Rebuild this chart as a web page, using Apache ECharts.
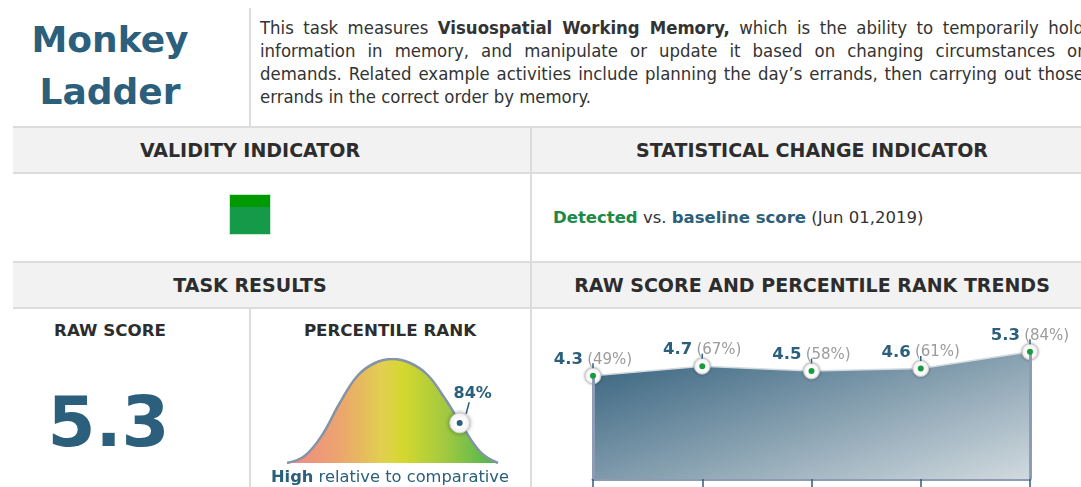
<!DOCTYPE html>
<html>
<head>
<meta charset="utf-8">
<title>Monkey Ladder</title>
<script src="https://cdn.jsdelivr.net/npm/echarts@6/dist/echarts.min.js"></script>
<style>
  html, body { margin: 0; padding: 0; }
  body { width: 1081px; height: 487px; overflow: hidden; position: relative; background: #fff;
         font-family: 'DejaVu Sans', sans-serif; color: #333; }
  .hline { position: absolute; height: 2px; background: #dcdcdc; }
  .vline { position: absolute; width: 2px; background: #dcdcdc; }
  .band { position: absolute; background: #f2f2f2; }
  .head { position: absolute; font-weight: bold; font-size: 19px; line-height: 22px; color: #2d2d2d; text-align: center; white-space: nowrap; }
  .sub { position: absolute; font-weight: bold; font-size: 16.7px; line-height: 20px; color: #2d2d2d; text-align: center; white-space: nowrap; }
  .desc { position: absolute; left: 260px; width: 824px; font-family: 'DejaVu Sans Condensed', 'DejaVu Sans', sans-serif;
          font-size: 18.4px; line-height: 23px; color: #333; white-space: nowrap; }
  .just { text-align: justify; text-align-last: justify; }
</style>
</head>
<body>

  <!-- task title + description -->
  <div style="position:absolute; left:0; top:14px; width:220px; text-align:center; font-size:36px; line-height:52px; font-weight:bold; color:#2b5f7b">Monkey<br>Ladder</div>
  <div class="vline" style="left:249px; top:8px; height:118px"></div>
  <div class="desc just" style="top:16px">This task measures <b>Visuospatial Working Memory,</b> which is the ability to temporarily hold</div>
  <div class="desc just" style="top:39px">information in memory, and manipulate or update it based on changing circumstances or</div>
  <div class="desc just" style="top:62px">demands. Related example activities include planning the day’s errands, then carrying out those</div>
  <div class="desc" style="top:85px">errands in the correct order by memory.</div>

  <!-- validity / statistical change -->
  <div class="hline" style="left:13px; top:126px; width:1068px"></div>
  <div class="band" style="left:13px; top:128px; width:1068px; height:44px"></div>
  <div class="hline" style="left:13px; top:172px; width:1068px"></div>
  <div class="head" style="left:0; width:500px; top:139px">VALIDITY INDICATOR</div>
  <div class="head" style="left:531px; width:562px; top:139px">STATISTICAL CHANGE INDICATOR</div>

  <div style="position:absolute; left:229px; top:194px; width:40px; height:39px; border:1px solid #c6ead0; background:#149a48">
    <div style="height:12px; background:#009900"></div>
  </div>
  <div style="position:absolute; left:553px; top:207px; font-size:16.5px; line-height:22px; white-space:nowrap; color:#333">
    <b style="color:#1a8a45">Detected</b> vs. <b style="color:#2b5f7b">baseline score</b> (Jun 01,2019)
  </div>

  <!-- task results / trends -->
  <div class="hline" style="left:13px; top:261px; width:1068px"></div>
  <div class="band" style="left:13px; top:263px; width:1068px; height:44px"></div>
  <div class="hline" style="left:13px; top:307px; width:1068px"></div>
  <div class="head" style="left:0; width:500px; top:274px">TASK RESULTS</div>
  <div class="head" style="left:531px; width:562px; top:274px">RAW SCORE AND PERCENTILE RANK TRENDS</div>

  <div class="vline" style="left:530px; top:126px; height:361px"></div>
  <div class="vline" style="left:249px; top:307px; height:180px"></div>

  <div class="sub" style="left:0; width:220px; top:320px">RAW SCORE</div>
  <div class="sub" style="left:260px; width:260px; top:320px">PERCENTILE RANK</div>
  <div style="position:absolute; left:0; width:217px; top:380px; text-align:center; font-size:69px; line-height:84px; font-weight:bold; color:#2b5f7b">5.3</div>

  <div id="bell" style="position:absolute; left:260px; top:308px; width:270px; height:179px"></div>
  <div style="position:absolute; left:260px; width:260px; top:466px; text-align:center; font-size:16.3px; line-height:22px; color:#2b5f7b; white-space:nowrap"><b>High</b> relative to comparative</div>

  <div id="trend" style="position:absolute; left:531px; top:308px; width:550px; height:179px"></div>

<script>
// percentile bell curve, heights
const bellZ = [-3, -2.5, -2, -1.5, -1, -0.5, 0, 0.5, 1, 1.5, 2, 2.5, 3];
const bellHeight = [0, 7, 28, 60, 87, 100, 104, 100, 88, 64, 36, 11, 0];
const markerZ = 1.91;
const markerH = 40;
const percentile = 84;

// trend across sessions
const sessions = ['S1', 'S2', 'S3', 'S4', 'S5'];
const scores = [4.3, 4.7, 4.5, 4.6, 5.3];
const ranks = [49, 67, 58, 61, 84];

const dark = '#2b5f7b';

let bellChart = echarts.init(document.getElementById('bell'));
bellChart.setOption({
  animation: false,
  grid: {left: 27, width: 211, top: 51, height: 104},
  xAxis: {type: 'value', min: -3, max: 3, show: false},
  yAxis: {type: 'value', min: 0, max: 104, show: false},
  series: [
    {
      type: 'line',
      data: bellZ.map((z, i) => [z, bellHeight[i]]),
      smooth: 0.4,
      showSymbol: false,
      silent: true,
      lineStyle: {color: '#8593a6', width: 2.5},
      areaStyle: {
        opacity: 1,
        color: new echarts.graphic.LinearGradient(0, 0, 1, 0, [
          {offset: 0, color: '#f08888'},
          {offset: 0.25, color: '#eca56e'},
          {offset: 0.45, color: '#e2cf50'},
          {offset: 0.55, color: '#d4d82e'},
          {offset: 0.75, color: '#a2c940'},
          {offset: 1, color: '#44b552'}
        ])
      }
    },
    {
      // leader line to the percentile label
      type: 'scatter',
      z: 10,
      data: [[markerZ, markerH]],
      symbol: 'rect',
      symbolSize: [1.5, 12],
      symbolRotate: -15,
      symbolOffset: [8, -15],
      itemStyle: {color: dark, opacity: 1},
      silent: true
    },
    {
      type: 'scatter',
      z: 11,
      data: [[markerZ, markerH]],
      symbolSize: 20,
      itemStyle: {color: '#fff', opacity: 1, borderColor: '#d0d0d0', borderWidth: 1, shadowBlur: 4, shadowColor: 'rgba(0,0,0,0.35)'},
      label: {
        show: true,
        position: 'top',
        distance: 11,
        offset: [13, 0],
        formatter: percentile + '%',
        fontFamily: 'DejaVu Sans',
        fontWeight: 'bold',
        fontSize: 16,
        color: dark
      },
      silent: true
    },
    {
      type: 'scatter',
      z: 12,
      data: [[markerZ, markerH]],
      symbolSize: 6,
      itemStyle: {color: dark, opacity: 1},
      silent: true
    }
  ]
});

let trendChart = echarts.init(document.getElementById('trend'));
trendChart.setOption({
  animation: false,
  grid: {left: 62, right: 51, top: 27, bottom: 8},
  xAxis: {
    type: 'category',
    boundaryGap: false,
    data: sessions,
    axisLine: {lineStyle: {color: '#8d9cb4', width: 3}},
    axisTick: {length: 8, lineStyle: {color: dark, width: 1.5}},
    axisLabel: {show: false}
  },
  yAxis: {type: 'value', min: 0, max: 6, show: false},
  series: [
    {
      type: 'line',
      data: scores,
      symbol: 'circle',
      symbolSize: 16,
      itemStyle: {color: '#fff', borderColor: '#c8c8c8', borderWidth: 1, shadowBlur: 3, shadowColor: 'rgba(0,0,0,0.3)'},
      lineStyle: {color: '#d3d9e0', width: 1.5},
      areaStyle: {
        opacity: 1,
        color: new echarts.graphic.LinearGradient(0, 0, 0.19, 2, [
          {offset: 0, color: '#33607c'},
          {offset: 1, color: '#d8dfe3'}
        ])
      },
      label: {
        show: true,
        position: 'top',
        distance: 1,
        offset: [0, 2],
        fontSize: 15,
        formatter: p => '{v|' + scores[p.dataIndex] + '} {p|(' + ranks[p.dataIndex] + '%)}',
        rich: {
          v: {fontFamily: 'DejaVu Sans', fontWeight: 'bold', fontSize: 16.5, color: dark},
          p: {fontFamily: 'DejaVu Sans', fontSize: 15, color: '#9b9b9b'}
        }
      },
      markLine: {
        silent: true,
        symbol: ['none', 'none'],
        label: {show: false},
        lineStyle: {type: 'solid', color: '#8d9cb4', width: 3},
        data: [
          [{coord: [sessions[0], 0]}, {coord: [sessions[0], scores[0]]}],
          [{coord: [sessions[4], 0]}, {coord: [sessions[4], scores[4]]}]
        ]
      },
      silent: true
    },
    {
      type: 'scatter',
      z: 10,
      data: scores,
      symbol: 'rect',
      symbolSize: [1.5, 5],
      symbolOffset: [0, -10],
      itemStyle: {color: dark, opacity: 1},
      silent: true
    },
    {
      type: 'scatter',
      z: 11,
      data: scores,
      symbolSize: 6,
      itemStyle: {color: '#169c3c', opacity: 1},
      silent: true
    }
  ]
});
</script>
</body>
</html>
